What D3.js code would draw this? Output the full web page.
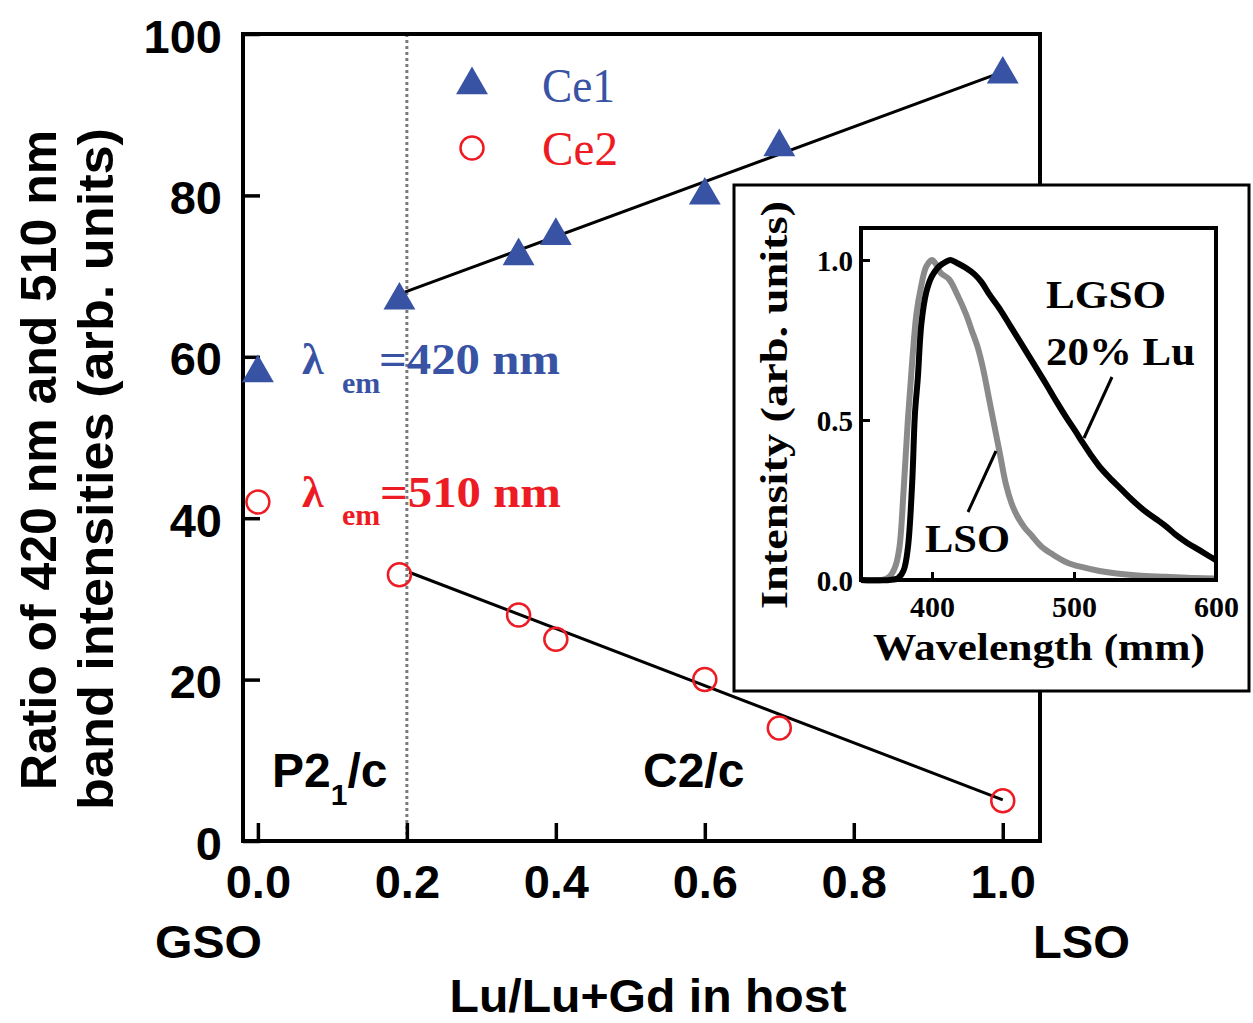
<!DOCTYPE html>
<html><head><meta charset="utf-8">
<script src="https://cdn.jsdelivr.net/npm/d3@7"></script>
<style>body{margin:0;background:#fff}svg{display:block}</style>
</head><body>
<script>
// ---- main plot data ----
const hostX = [0, 0.19, 0.35, 0.4, 0.6, 0.7, 1.0];
const ce1 = [58, 67, 72.5, 75, 80, 86, 95];
const ce2 = [42, 33, 28, 25, 20, 14, 5];
const ce1Fit = [[0.188, 67.7], [1.0, 95.3]];
const ce2Fit = [[0.203, 33.3], [1.0, 5.1]];
const phaseBoundary = 0.2;
const xTicks = [0, 0.2, 0.4, 0.6, 0.8, 1.0];
const yTicks = [0, 20, 40, 60, 80, 100];
// ---- inset data ----
const lsoWl = [350,365,370,374,377,380,383,386,389,392,396,400,403,406,412,418,424,428,432,436,440,444,448,452,456,460,465,470,477,485,495,506,518,530,545,565,585,600];
const lsoI  = [0,0,0.01,0.04,0.1,0.28,0.5,0.68,0.83,0.91,0.98,1.0,0.985,0.96,0.94,0.89,0.83,0.78,0.73,0.66,0.57,0.48,0.39,0.30,0.24,0.20,0.165,0.14,0.105,0.08,0.055,0.04,0.028,0.02,0.014,0.01,0.006,0.005];
const lgsoWl = [350,370,376,380,383,386,388,390,392.5,396,400,405,410,413,418,424,430,435,440,448,455,462,471,480,488,495,501,506,512,518,525,533,541,550,558,565,572,580,588,595,600];
const lgsoI  = [0,0,0.005,0.03,0.1,0.3,0.52,0.63,0.8,0.9,0.95,0.98,0.995,1.0,0.99,0.975,0.955,0.93,0.895,0.845,0.795,0.745,0.68,0.615,0.555,0.505,0.465,0.43,0.39,0.354,0.32,0.285,0.25,0.215,0.19,0.167,0.14,0.115,0.094,0.075,0.062];
const insetXTicks = [400, 500, 600];
const insetYTicks = [0, 0.5, 1.0];

const W = 1253, H = 1023;
const SANS = "'Liberation Sans', Arial, sans-serif";
const SERIF = "'Liberation Serif', 'Times New Roman', serif";
const BLUE = "#3953a4", RED = "#ed1c24";

const svg = d3.select("body").append("svg").attr("width", W).attr("height", H);

const x = d3.scaleLinear().domain([-0.02, 1.05]).range([243, 1040]);
const y = d3.scaleLinear().domain([0, 100]).range([841, 34]);

// dotted phase boundary
svg.append("line").attr("x1", x(phaseBoundary)).attr("x2", x(phaseBoundary))
  .attr("y1", y(100)).attr("y2", y(0))
  .attr("stroke", "#7a7a7a").attr("stroke-width", 3).attr("stroke-dasharray", "3,3");

// axes
const gx = svg.append("g").attr("transform", `translate(0,${y(0)})`)
  .call(d3.axisBottom(x).tickValues(xTicks).tickSize(-18).tickPadding(0).tickFormat(d3.format(".1f")));
gx.select(".domain").remove();
gx.selectAll(".tick line").attr("stroke", "#000").attr("stroke-width", 3.5);
gx.selectAll(".tick text").attr("font-family", SANS).attr("font-weight", "bold")
  .attr("font-size", 47).attr("dy", null).attr("y", 57).attr("fill", "#000");

const gy = svg.append("g").attr("transform", `translate(${x(-0.02)},0)`)
  .call(d3.axisLeft(y).tickValues(yTicks).tickSize(-17).tickPadding(0));
gy.select(".domain").remove();
gy.selectAll(".tick line").attr("stroke", "#000").attr("stroke-width", 3.5);
gy.selectAll(".tick text").attr("font-family", SANS).attr("font-weight", "bold")
  .attr("font-size", 47).attr("dy", null).attr("y", 18).attr("x", -21).attr("fill", "#000");

// frame
svg.append("rect").attr("x", x(-0.02)).attr("y", y(100))
  .attr("width", x(1.05) - x(-0.02)).attr("height", y(0) - y(100))
  .attr("fill", "none").attr("stroke", "#000").attr("stroke-width", 4);

// fit lines
const line = d3.line().x(d => x(d[0])).y(d => y(d[1]));
svg.append("path").attr("d", line(ce1Fit)).attr("stroke", "#000").attr("stroke-width", 3).attr("fill", "none");
svg.append("path").attr("d", line(ce2Fit)).attr("stroke", "#000").attr("stroke-width", 3).attr("fill", "none");

// markers
const tri = d3.symbol().type(d3.symbolTriangle).size(440);
svg.selectAll(".ce1").data(hostX).join("path")
  .attr("d", tri).attr("transform", (d, i) => `translate(${x(d)},${y(ce1[i])})`).attr("fill", BLUE);
svg.selectAll(".ce2").data(hostX).join("circle")
  .attr("cx", d => x(d)).attr("cy", (d, i) => y(ce2[i])).attr("r", 11.5)
  .attr("fill", "none").attr("stroke", RED).attr("stroke-width", 2.5);

// legend
svg.append("path").attr("d", tri).attr("transform", "translate(472,85)").attr("fill", BLUE);
svg.append("circle").attr("cx", 472).attr("cy", 148).attr("r", 11.5).attr("fill", "none").attr("stroke", RED).attr("stroke-width", 2.5);
function txt(t, xx, yy, o) {
  const e = svg.append("text").attr("x", xx).attr("y", yy).text(t)
    .attr("font-family", o.family).attr("font-size", o.size)
    .attr("font-weight", o.weight || "normal").attr("fill", o.fill || "#000");
  if (o.anchor) e.attr("text-anchor", o.anchor);
  if (o.len) e.attr("textLength", o.len).attr("lengthAdjust", "spacingAndGlyphs");
  return e;
}
txt("Ce1", 542, 102, {family: SERIF, size: 48, fill: BLUE, len: 73});
txt("Ce2", 542, 165, {family: SERIF, size: 48, fill: RED, len: 76});

// lambda annotations
txt("λ", 302, 374, {family: SERIF, size: 44, weight: "bold", fill: BLUE});
txt("em", 342, 393, {family: SERIF, size: 30, weight: "bold", fill: BLUE});
txt("=420 nm", 379, 374, {family: SERIF, size: 44, weight: "bold", fill: BLUE, len: 181});
txt("λ", 302, 507, {family: SERIF, size: 44, weight: "bold", fill: RED});
txt("em", 342, 525, {family: SERIF, size: 30, weight: "bold", fill: RED});
txt("=510 nm", 380, 507, {family: SERIF, size: 44, weight: "bold", fill: RED, len: 181});

// phase labels
const p = svg.append("text").attr("x", 272).attr("y", 787).attr("font-family", SANS)
  .attr("font-weight", "bold").attr("font-size", 48);
p.append("tspan").text("P2");
p.append("tspan").text("1").attr("font-size", 30).attr("dy", 18);
p.append("tspan").text("/c").attr("dy", -18);
txt("C2/c", 643, 787, {family: SANS, size: 48, weight: "bold"});

// x-axis end labels and title
txt("GSO", 155, 958, {family: SANS, size: 47, weight: "bold", len: 107});
txt("LSO", 1033, 958, {family: SANS, size: 47, weight: "bold", len: 97});
txt("Lu/Lu+Gd in host", 648, 1012, {family: SANS, size: 47, weight: "bold", anchor: "middle", len: 397});

// y-axis title
svg.append("text").attr("transform", "translate(56,460) rotate(-90)")
  .attr("text-anchor", "middle").attr("font-family", SANS).attr("font-weight", "bold")
  .attr("font-size", 50).attr("textLength", 660).attr("lengthAdjust", "spacingAndGlyphs")
  .text("Ratio of 420 nm and 510 nm");
svg.append("text").attr("transform", "translate(113,469) rotate(-90)")
  .attr("text-anchor", "middle").attr("font-family", SANS).attr("font-weight", "bold")
  .attr("font-size", 50).attr("textLength", 682).attr("lengthAdjust", "spacingAndGlyphs")
  .text("band intensities (arb. units)");

// ---- inset ----
svg.append("rect").attr("x", 734).attr("y", 185).attr("width", 515).attr("height", 506)
  .attr("fill", "#fff").attr("stroke", "#000").attr("stroke-width", 3);

const ix = d3.scaleLinear().domain([350, 600]).range([861, 1216]);
const iy = d3.scaleLinear().domain([0, 1.1]).range([580, 228]);

const igx = svg.append("g").attr("transform", `translate(0,${iy(0)})`)
  .call(d3.axisBottom(ix).tickValues(insetXTicks).tickSize(-8).tickPadding(0));
igx.select(".domain").remove();
igx.selectAll(".tick line").attr("stroke", "#000").attr("stroke-width", 3);
igx.selectAll(".tick text").attr("font-family", SERIF).attr("font-weight", "bold")
  .attr("font-size", 30).attr("dy", null).attr("y", 37).attr("fill", "#000");

const igy = svg.append("g").attr("transform", `translate(${ix(350)},0)`)
  .call(d3.axisLeft(iy).tickValues(insetYTicks).tickSize(-9).tickPadding(0).tickFormat(d3.format(".1f")));
igy.select(".domain").remove();
igy.selectAll(".tick line").attr("stroke", "#000").attr("stroke-width", 3);
igy.selectAll(".tick text").attr("font-family", SERIF).attr("font-weight", "bold")
  .attr("font-size", 29).attr("dy", null).attr("y", 10).attr("x", -8).attr("fill", "#000");

const iline = d3.line().x(d => ix(d[0])).y(d => iy(d[1])).curve(d3.curveCatmullRom.alpha(0.5));
svg.append("path").attr("d", iline(lsoWl.map((w, i) => [w, lsoI[i]])))
  .attr("fill", "none").attr("stroke", "#8a8a8a").attr("stroke-width", 6);
svg.append("path").attr("d", iline(lgsoWl.map((w, i) => [w, lgsoI[i]])))
  .attr("fill", "none").attr("stroke", "#000").attr("stroke-width", 6);

svg.append("rect").attr("x", ix(350)).attr("y", iy(1.1))
  .attr("width", ix(600) - ix(350)).attr("height", iy(0) - iy(1.1))
  .attr("fill", "none").attr("stroke", "#000").attr("stroke-width", 4);

// inset labels
txt("LGSO", 1046, 308, {family: SERIF, size: 40, weight: "bold", len: 120});
txt("20% Lu", 1046, 365, {family: SERIF, size: 40, weight: "bold", len: 149});
txt("LSO", 925, 552, {family: SERIF, size: 40, weight: "bold", len: 85});
svg.append("line").attr("x1", 1112).attr("y1", 377).attr("x2", 1084).attr("y2", 438)
  .attr("stroke", "#000").attr("stroke-width", 3);
svg.append("line").attr("x1", 996).attr("y1", 451).attr("x2", 968).attr("y2", 512)
  .attr("stroke", "#000").attr("stroke-width", 3);

txt("Wavelength (mm)", 1039, 660, {family: SERIF, size: 38, weight: "bold", anchor: "middle", len: 332});
svg.append("text").attr("transform", "translate(787,405) rotate(-90)")
  .attr("text-anchor", "middle").attr("font-family", SERIF).attr("font-weight", "bold")
  .attr("font-size", 38).attr("textLength", 408).attr("lengthAdjust", "spacingAndGlyphs")
  .text("Intensity (arb. units)");
</script>
</body></html>
